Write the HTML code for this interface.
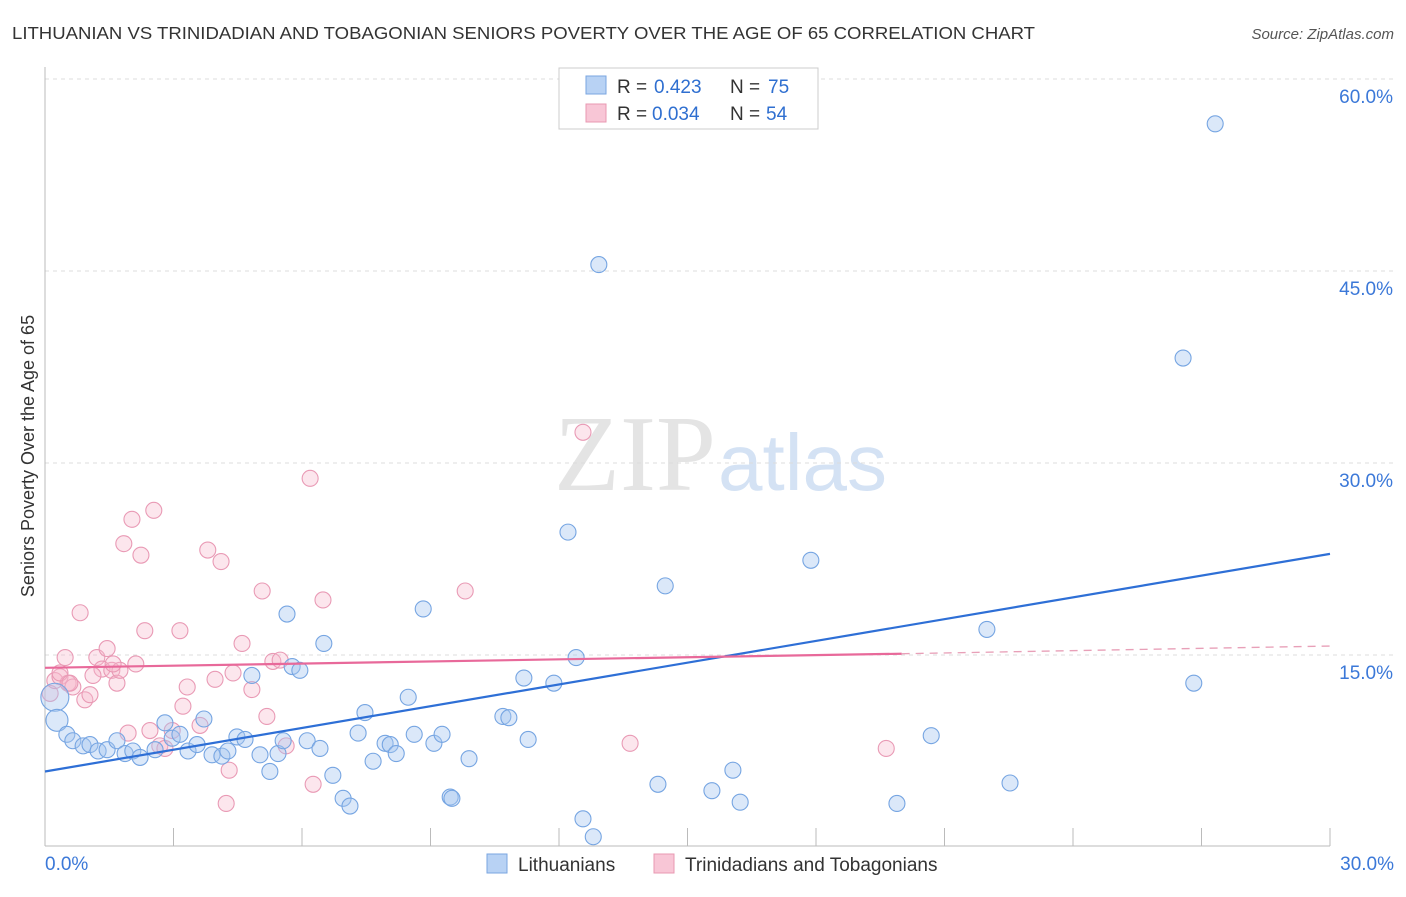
<!DOCTYPE html>
<html><head><meta charset="utf-8"><style>
body{margin:0;background:#fff;font-family:"Liberation Sans",sans-serif;}
</style></head><body>
<svg id="c" width="1406" height="892" xmlns="http://www.w3.org/2000/svg">
<text x="12" y="39" font-size="17.5" fill="#333" textLength="1023" lengthAdjust="spacingAndGlyphs">LITHUANIAN VS TRINIDADIAN AND TOBAGONIAN SENIORS POVERTY OVER THE AGE OF 65 CORRELATION CHART</text>
<text x="1394" y="39" font-size="15" fill="#555" font-style="italic" text-anchor="end">Source: ZipAtlas.com</text>
<text x="716" y="490" font-size="108" fill="#e4e4e4" font-family="Liberation Serif,serif" text-anchor="end">ZIP</text>
<text x="718" y="490" font-size="80" fill="#d4e2f4">atlas</text>
<text transform="translate(34,456) rotate(-90)" font-size="18" fill="#333" text-anchor="middle">Seniors Poverty Over the Age of 65</text>
<g id="grid"></g><g id="marks"></g>
<g>
<rect x="559" y="68" width="259" height="61" fill="#fff" stroke="#ccc"/>
<rect x="586" y="76" width="20" height="18" fill="#b8d2f4" stroke="#7aa6e0"/>
<rect x="586" y="104" width="20" height="18" fill="#f8c6d6" stroke="#e898b2"/>
<text y="93" font-size="19" fill="#333"><tspan x="617">R =</tspan><tspan x="654" fill="#2f6fd0">0.423</tspan><tspan x="730">N =</tspan><tspan x="768" fill="#2f6fd0">75</tspan></text>
<text y="120" font-size="19" fill="#333"><tspan x="617">R =</tspan><tspan x="652" fill="#2f6fd0">0.034</tspan><tspan x="730">N =</tspan><tspan x="766" fill="#2f6fd0">54</tspan></text>
</g>
<g>
<rect x="487" y="854" width="20" height="19" fill="#b8d2f4" stroke="#7aa6e0"/>
<text x="518" y="871" font-size="19" fill="#333">Lithuanians</text>
<rect x="654" y="854" width="20" height="19" fill="#f8c6d6" stroke="#e898b2"/>
<text x="685" y="871" font-size="19" fill="#333">Trinidadians and Tobagonians</text>
</g>
</svg>
<script>
const yTicks=[15,30,45,60];
const xTickLabels=["0.0%","30.0%"];
const blueX=[0.23,0.28,0.51,0.65,0.89,1.05,1.24,1.45,1.68,1.87,2.05,2.22,2.57,2.80,2.97,3.15,3.34,3.55,3.71,3.90,4.13,4.27,4.48,4.67,4.83,5.02,5.25,5.44,5.56,5.65,5.77,5.95,6.12,6.42,6.51,6.72,6.96,7.12,7.31,7.47,7.66,7.94,8.06,8.20,8.48,8.62,8.83,9.08,9.27,9.46,9.50,9.90,10.69,10.83,11.18,11.28,11.88,12.21,12.40,12.56,12.80,12.93,14.31,14.48,15.57,16.06,16.23,17.88,19.89,20.69,21.99,22.53,26.57,26.82,27.32];
const blueY=[11.7,9.9,8.8,8.3,7.9,8.0,7.5,7.6,8.3,7.3,7.5,7.0,7.6,9.7,8.5,8.8,7.5,8.0,10.0,7.2,7.1,7.5,8.6,8.4,13.4,7.2,5.9,7.3,8.3,18.2,14.1,13.8,8.3,7.7,15.9,5.6,3.8,3.2,8.9,10.5,6.7,8.1,8.0,7.3,11.7,8.8,18.6,8.1,8.8,3.9,3.8,6.9,10.2,10.1,13.2,8.4,12.8,24.6,14.8,2.2,0.8,45.5,4.9,20.4,4.4,6.0,3.5,22.4,3.4,8.7,17.0,5.0,38.2,12.8,56.5];
const pinkX=[0.12,0.23,0.35,0.47,0.54,0.65,0.82,0.93,1.05,1.21,1.33,1.45,1.56,1.68,1.75,1.94,2.03,2.12,2.24,2.33,1.84,2.45,2.54,2.68,2.80,2.97,3.15,3.22,3.32,3.62,3.80,3.97,4.11,4.30,4.23,4.39,4.60,4.83,5.07,5.18,5.32,5.49,5.63,6.19,6.26,6.49,9.81,12.56,13.66,19.64,0.35,0.58,1.12,1.59];
const pinkY=[12.0,13.0,13.3,14.8,12.8,12.5,18.3,11.5,11.9,14.8,13.9,15.5,13.8,12.8,13.8,8.9,25.6,14.3,22.8,16.9,23.7,9.1,26.3,7.9,7.7,9.1,16.9,11.0,12.5,9.5,23.2,13.1,22.3,6.0,3.4,13.6,15.9,12.3,20.0,10.2,14.5,14.6,7.9,28.8,4.9,19.3,20.0,32.4,8.1,7.7,13.6,12.8,13.4,14.3];
const X=v=>45+v*42.833, Y=v=>847-v*12.8;
const NS="http://www.w3.org/2000/svg";
const grid=document.getElementById('grid'), marks=document.getElementById('marks');
function mk(tag,attrs,parent){const e=document.createElementNS(NS,tag);for(const k in attrs)e.setAttribute(k,attrs[k]);parent.appendChild(e);return e;}
yTicks.forEach(t=>{
 const l=mk('line',{x1:45,x2:1393,y1:Y(t),y2:Y(t),stroke:'#dcdcdc','stroke-dasharray':'4,4'},grid);
 
 
 const tx=mk('text',{x:1393,y:Y(t)+24,'font-size':19,fill:'#3b78d8','text-anchor':'end'},grid);
 tx.textContent=t.toFixed(1)+'%';
 
 
});
mk('line',{x1:45,x2:45,y1:67,y2:846,stroke:'#bbb'},grid);
mk('line',{x1:45,x2:1330,y1:846,y2:846,stroke:'#bbb'},grid);
for(let i=0;i<=10;i++){mk('line',{x1:X(i*3),x2:X(i*3),y1:828,y2:846,stroke:'#bbb'},grid);}
xTickLabels.forEach((s,i)=>{const t=mk('text',{x:i?1394:45,y:870,'font-size':19,fill:'#3b78d8','text-anchor':i?'end':'start'},grid);t.textContent=s;
 
 });
pinkX.forEach((x,i)=>{const c=mk('circle',{cx:X(x),cy:Y(pinkY[i]),r:8,fill:'rgba(246,182,202,0.35)',stroke:'#e99ab5','stroke-width':1.1},marks);
 
 });
blueX.forEach((x,i)=>{const c=mk('circle',{cx:X(x),cy:Y(blueY[i]),r:i===0?14:(i===1?11:8),fill:'rgba(165,198,240,0.4)',stroke:'#76a5e2','stroke-width':1.1},marks);
 
 });
const bl=mk('line',{x1:X(0),y1:Y(5.9),x2:X(30),y2:Y(22.9),stroke:'#2e6fd6','stroke-width':2.2},marks);


const pl=mk('line',{x1:X(0),y1:Y(14.0),x2:X(20),y2:Y(15.1),stroke:'#e8699a','stroke-width':2.2},marks);


const pd=mk('line',{x1:X(20),y1:Y(15.1),x2:X(30),y2:Y(15.7),stroke:'#e8a0b8','stroke-width':1.3,'stroke-dasharray':'8,6'},marks);


</script>
</body></html>
